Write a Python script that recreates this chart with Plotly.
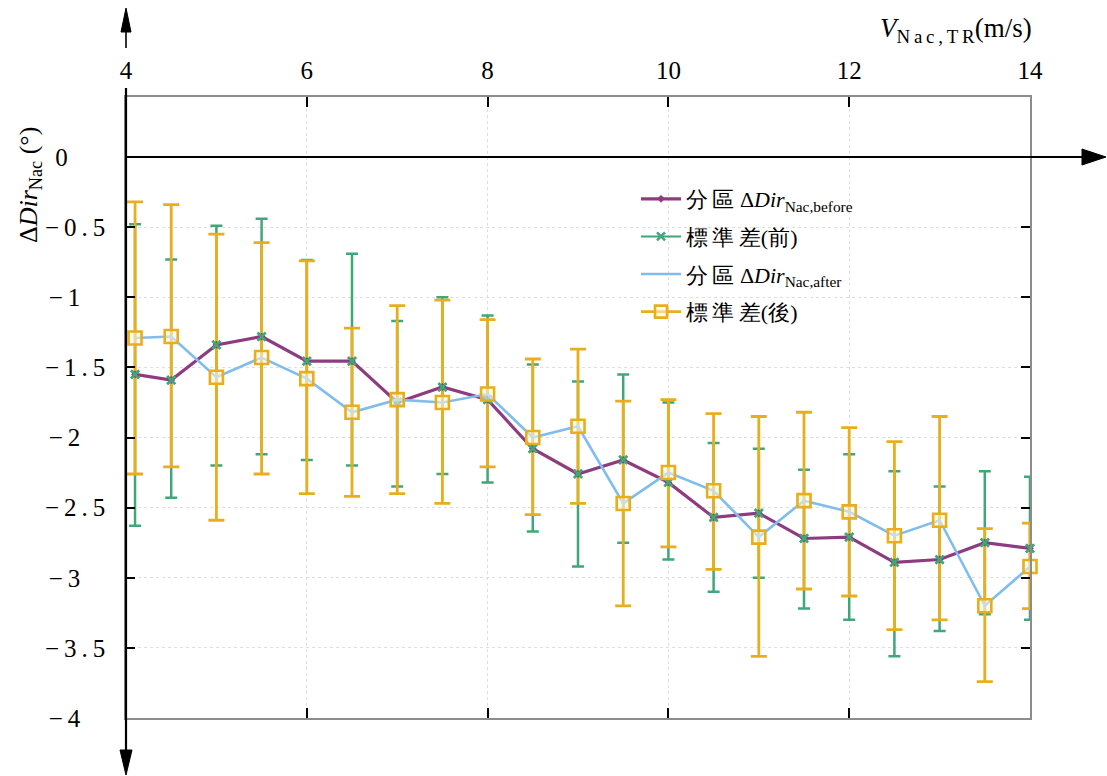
import plotly.graph_objects as go

# ---------------- data ----------------
speed = [4.1, 4.5, 5.0, 5.5, 6.0, 6.5, 7.0, 7.5, 8.0, 8.5, 9.0, 9.5, 10.0,
         10.5, 11.0, 11.5, 12.0, 12.5, 13.0, 13.5, 14.0]

before_mean = [-1.55, -1.59, -1.34, -1.28, -1.455, -1.455, -1.75, -1.64, -1.73,
               -2.08, -2.26, -2.16, -2.32, -2.57, -2.54, -2.72, -2.71, -2.89,
               -2.87, -2.75, -2.79]
before_upper = [-0.48, -0.73, -0.49, -0.44, -0.735, -0.69, -1.17, -1.00, -1.13,
                -1.48, -1.60, -1.55, -1.75, -2.04, -2.08, -2.23, -2.12, -2.24,
                -2.35, -2.24, -2.28]
before_lower = [-2.63, -2.43, -2.20, -2.12, -2.16, -2.20, -2.35, -2.26, -2.32,
                -2.67, -2.92, -2.75, -2.87, -3.10, -3.00, -3.22, -3.30, -3.56,
                -3.38, -3.26, -3.30]

after_mean = [-1.29, -1.28, -1.57, -1.43, -1.58, -1.82, -1.73, -1.75, -1.69,
              -2.00, -1.92, -2.47, -2.25, -2.38, -2.71, -2.45, -2.53, -2.70,
              -2.59, -3.20, -2.92]
after_upper = [-0.32, -0.34, -0.55, -0.61, -0.74, -1.22, -1.06, -1.02, -1.16,
               -1.44, -1.37, -1.74, -1.73, -1.83, -1.85, -1.82, -1.93, -2.03,
               -1.85, -2.65, -2.61]
after_lower = [-2.26, -2.21, -2.59, -2.26, -2.40, -2.42, -2.40, -2.47, -2.21,
               -2.55, -2.47, -3.20, -2.78, -2.94, -3.56, -3.08, -3.13, -3.37,
               -3.30, -3.74, -3.22]

x_tick_vals = [4, 6, 8, 10, 12, 14]
x_tick_text = ["4", "6", "8", "10", "12", "14"]
y_tick_vals = [0, -0.5, -1, -1.5, -2, -2.5, -3, -3.5, -4]
y_tick_text = ["0", "−0.5", "−1", "−1.5", "−2", "−2.5", "−3", "−3.5", "−4"]

name_before = "分\u2009區 Δ<i>Dir</i><sub>Nac,before</sub>"
name_std_before = "標\u2009準\u2009差(前)"
name_after = "分\u2009區 Δ<i>Dir</i><sub>Nac,after</sub>"
name_std_after = "標\u2009準\u2009差(後)"

# ---------------- styles ----------------
PURPLE = "#8e3c80"
GREEN = "#3fa878"
BLUE = "#80bdec"
ORANGE = "#e8ae1c"
SERIF = "'Liberation Serif', 'Times New Roman', Times, 'DejaVu Serif', serif"

W, H = 1107, 776
L, R, T, B = 126, 1030, 97, 718


def spaced(s, sep="\u2009"):
    return sep.join(list(s))


def pad_label(s):
    core = spaced(s)
    n = 4 - len(s)
    return core + "\u2007" * max(n, 0)


def px(xp):
    return (xp - L) / (R - L)


def py(yp):
    return (B - yp) / (B - T)


def err_plus(upper, mean):
    return [u - m for u, m in zip(upper, mean)]


def err_minus(lower, mean):
    return [m - l for l, m in zip(lower, mean)]


fig = go.Figure()

fig.add_trace(go.Scatter(
    x=speed, y=before_mean, mode="markers", showlegend=False, cliponaxis=False,
    marker=dict(symbol="x-thin", size=8, color=GREEN, line=dict(width=2.5, color=GREEN)),
    error_y=dict(type="data", symmetric=False,
                 array=err_plus(before_upper, before_mean),
                 arrayminus=err_minus(before_lower, before_mean),
                 color=GREEN, thickness=2.5, width=6),
))

fig.add_trace(go.Scatter(
    x=speed, y=after_mean, mode="markers", showlegend=False, cliponaxis=False,
    marker=dict(size=1, color="rgba(0,0,0,0)"),
    error_y=dict(type="data", symmetric=False,
                 array=err_plus(after_upper, after_mean),
                 arrayminus=err_minus(after_lower, after_mean),
                 color=ORANGE, thickness=2.8, width=8),
))

fig.add_trace(go.Scatter(
    x=speed, y=before_mean, mode="lines+markers", name=name_before,
    legendrank=1, legendgroup="a", cliponaxis=False,
    line=dict(color=PURPLE, width=3.2),
    marker=dict(symbol="diamond", size=6, color=PURPLE),
))

fig.add_trace(go.Scatter(
    x=speed, y=before_mean, mode="markers", showlegend=False, cliponaxis=False,
    marker=dict(symbol="x-thin", size=8, color=GREEN, line=dict(width=2.5, color=GREEN)),
))

fig.add_trace(go.Scatter(
    x=[None], y=[None], mode="lines+markers", name=name_std_before,
    legendrank=2, legendgroup="b",
    line=dict(color=GREEN, width=2),
    marker=dict(symbol="x-thin", size=8, color=GREEN, line=dict(width=2.5, color=GREEN)),
))

fig.add_trace(go.Scatter(
    x=speed, y=after_mean, mode="lines", name=name_after,
    legendrank=3, legendgroup="c", cliponaxis=False,
    line=dict(color=BLUE, width=2.6),
))

fig.add_trace(go.Scatter(
    x=speed, y=after_mean, mode="markers", showlegend=False, cliponaxis=False,
    marker=dict(symbol="square", size=13, color="rgba(255,248,225,0.55)",
                line=dict(color=ORANGE, width=2.6)),
))

fig.add_trace(go.Scatter(
    x=[None], y=[None], mode="lines+markers", name=name_std_after,
    legendrank=4, legendgroup="d",
    line=dict(color=ORANGE, width=2.8),
    marker=dict(symbol="square", size=12, color="rgba(255,248,225,0.55)",
                line=dict(color=ORANGE, width=2.6)),
))

shapes = []
black_line = dict(color="black", width=2.2)
shapes.append(dict(type="line", xref="paper", yref="paper",
                   x0=px(L), x1=px(L), y0=py(88), y1=py(752), line=black_line))
shapes.append(dict(type="path", xref="paper", yref="paper",
                   path=f"M {px(L-6)} {py(750)} L {px(L+6)} {py(750)} L {px(L)} {py(775)} Z",
                   fillcolor="black", line=dict(color="black", width=1)))
shapes.append(dict(type="line", xref="paper", yref="paper",
                   x0=px(L), x1=px(L), y0=py(30), y1=py(48), line=dict(color="black", width=1.6)))
shapes.append(dict(type="path", xref="paper", yref="paper",
                   path=f"M {px(L-5)} {py(32)} L {px(L+5)} {py(32)} L {px(L)} {py(8)} Z",
                   fillcolor="black", line=dict(color="black", width=1)))
shapes.append(dict(type="line", xref="paper", yref="paper",
                   x0=px(L), x1=px(1086), y0=py(157), y1=py(157), line=black_line))
shapes.append(dict(type="path", xref="paper", yref="paper",
                   path=f"M {px(1082)} {py(149)} L {px(1082)} {py(165)} L {px(1106)} {py(157)} Z",
                   fillcolor="black", line=dict(color="black", width=1)))

annotations = [
    dict(xref="paper", yref="paper", x=px(1034), y=py(30), xanchor="right", yanchor="middle",
         text="<i>V</i><sub>N\u2009a\u2009c\u2009,\u2009T\u2009R</sub>(m/s)", showarrow=False,
         font=dict(family=SERIF, size=27, color="black")),
    dict(xref="paper", yref="paper", x=px(30), y=py(185), xanchor="center", yanchor="middle",
         text="Δ<i>Dir</i><sub>Nac</sub> (°)", textangle=-90, showarrow=False,
         font=dict(family=SERIF, size=26, color="black")),
]

fig.update_layout(
    width=W, height=H, autosize=False,
    margin=dict(l=L, r=W - R, t=T, b=H - B, pad=0),
    paper_bgcolor="white", plot_bgcolor="white",
    font=dict(family=SERIF, color="black"),
    showlegend=True,
    legend=dict(x=px(636), y=py(178), xanchor="left", yanchor="top",
                bgcolor="rgba(0,0,0,0)", traceorder="grouped", tracegroupgap=6,
                font=dict(family=SERIF, size=22, color="black"),
                itemwidth=40),
    xaxis=dict(range=[4, 14], side="top", tickmode="array",
               tickvals=x_tick_vals, ticktext=x_tick_text,
               ticks="inside", ticklen=10, tickwidth=2, tickcolor="black",
               showline=True, linecolor="#8c8c8c", linewidth=1.5, mirror="ticks",
               showgrid=True, gridcolor="#dedede", griddash="dot", gridwidth=1,
               zeroline=False, ticklabelstandoff=6,
               tickfont=dict(family=SERIF, size=25, color="black")),
    yaxis=dict(range=[-4.0, 0.428], tickmode="array",
               tickvals=y_tick_vals, ticktext=[pad_label(t) for t in y_tick_text],
               ticks="inside", ticklen=9, tickwidth=2, tickcolor="black",
               showline=True, linecolor="#8c8c8c", linewidth=1.5, mirror="ticks",
               showgrid=True, gridcolor="#dedede", griddash="dot", gridwidth=1,
               zeroline=False, ticklabelstandoff=14,
               tickfont=dict(family=SERIF, size=25, color="black")),
    shapes=shapes,
    annotations=annotations,
)

fig.write_html("out.html")
